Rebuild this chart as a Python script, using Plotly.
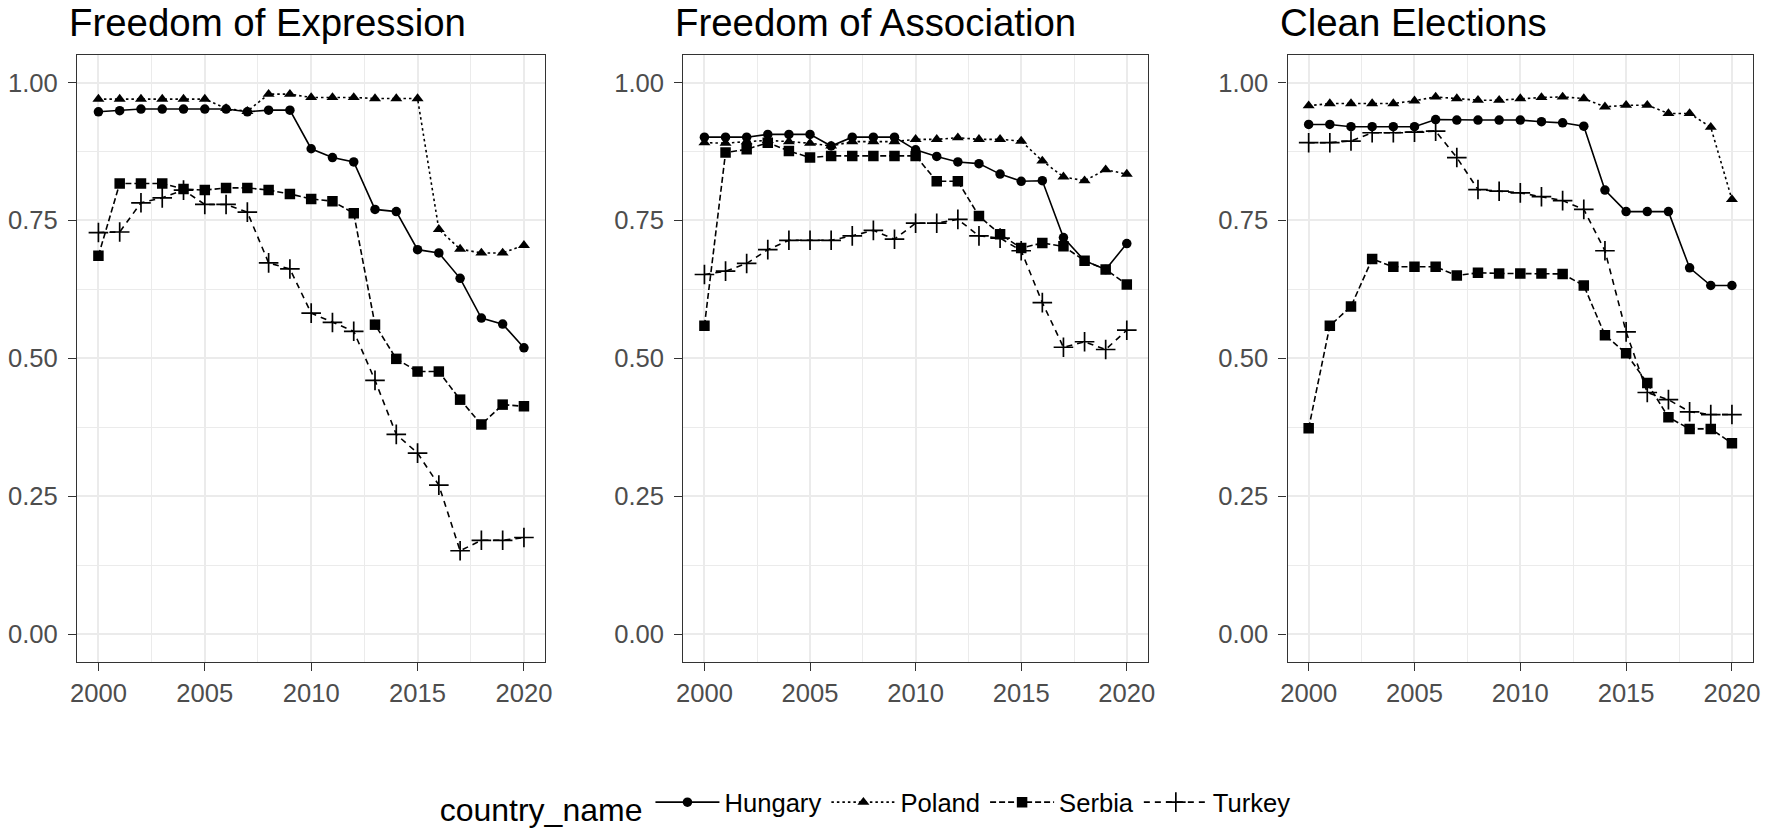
import plotly.graph_objects as go

years = list(range(2000, 2021))
countries = ["Hungary", "Poland", "Serbia", "Turkey"]
panel_titles = ["Freedom of Expression", "Freedom of Association", "Clean Elections"]
y_tick_vals = [0.0, 0.25, 0.5, 0.75, 1.0]
y_tick_text = ["0.00", "0.25", "0.50", "0.75", "1.00"]
x_tick_vals = [2000, 2005, 2010, 2015, 2020]

expr_hungary = [0.947, 0.949, 0.952, 0.952, 0.952, 0.952, 0.952, 0.947, 0.950, 0.950, 0.880,
                0.864, 0.856, 0.770, 0.766, 0.697, 0.691, 0.645, 0.573, 0.562, 0.519]
expr_poland = [0.970, 0.970, 0.970, 0.970, 0.970, 0.970, 0.953, 0.948, 0.979, 0.979, 0.973,
               0.973, 0.973, 0.971, 0.971, 0.971, 0.734, 0.698, 0.691, 0.691, 0.705]
expr_serbia = [0.686, 0.817, 0.817, 0.817, 0.807, 0.805, 0.809, 0.809, 0.805, 0.798, 0.789,
               0.785, 0.763, 0.561, 0.499, 0.476, 0.476, 0.425, 0.380, 0.416, 0.413]
expr_turkey = [0.728, 0.729, 0.782, 0.791, 0.805, 0.779, 0.779, 0.765, 0.673, 0.662, 0.582,
               0.565, 0.549, 0.460, 0.362, 0.328, 0.270, 0.151, 0.170, 0.170, 0.175]

assoc_hungary = [0.901, 0.901, 0.901, 0.906, 0.906, 0.906, 0.885, 0.901, 0.901, 0.901, 0.878,
                 0.866, 0.856, 0.853, 0.834, 0.821, 0.822, 0.719, 0.677, 0.661, 0.708]
assoc_poland = [0.891, 0.890, 0.893, 0.895, 0.893, 0.890, 0.885, 0.893, 0.893, 0.893, 0.897,
                0.897, 0.900, 0.897, 0.897, 0.894, 0.858, 0.829, 0.822, 0.842, 0.834]
assoc_serbia = [0.559, 0.873, 0.879, 0.891, 0.876, 0.864, 0.867, 0.867, 0.867, 0.867, 0.867,
                0.821, 0.821, 0.758, 0.725, 0.700, 0.709, 0.703, 0.677, 0.661, 0.634]
assoc_turkey = [0.652, 0.658, 0.672, 0.697, 0.714, 0.714, 0.714, 0.722, 0.732, 0.716, 0.745,
                0.745, 0.752, 0.722, 0.718, 0.695, 0.601, 0.520, 0.530, 0.516, 0.551]

elect_hungary = [0.924, 0.924, 0.920, 0.920, 0.920, 0.920, 0.933, 0.932, 0.932, 0.932, 0.932,
                 0.929, 0.927, 0.921, 0.805, 0.766, 0.766, 0.766, 0.664, 0.632, 0.632]
elect_poland = [0.958, 0.962, 0.962, 0.962, 0.962, 0.967, 0.974, 0.971, 0.968, 0.968, 0.971,
                0.973, 0.974, 0.971, 0.956, 0.959, 0.959, 0.944, 0.944, 0.919, 0.788]
elect_serbia = [0.373, 0.559, 0.594, 0.680, 0.666, 0.666, 0.666, 0.650, 0.655, 0.654, 0.654,
                0.654, 0.653, 0.632, 0.542, 0.509, 0.455, 0.393, 0.372, 0.372, 0.346]
elect_turkey = [0.891, 0.891, 0.894, 0.909, 0.909, 0.910, 0.912, 0.864, 0.806, 0.803, 0.800,
                0.793, 0.786, 0.770, 0.695, 0.548, 0.438, 0.425, 0.403, 0.398, 0.398]

panels = [
    [expr_hungary, expr_poland, expr_serbia, expr_turkey],
    [assoc_hungary, assoc_poland, assoc_serbia, assoc_turkey],
    [elect_hungary, elect_poland, elect_serbia, elect_turkey],
]

W, H = 1772, 831
styles = {
    "Hungary": dict(dash="solid", symbol="circle", size=9.5),
    "Poland": dict(dash="2.5px,3px", symbol="triangle-up", size=10.5),
    "Serbia": dict(dash="6px,3px", symbol="square", size=10.5),
    "Turkey": dict(dash="6px,5px", symbol="cross-thin", size=14),
}

px_x = [(70.7, 542.5), (681.7, 1150.0), (1290.7, 1760.0)]
x_domains = [(a / W, b / W) for a, b in px_x]
y_domain = ((H - 661.6) / H, (H - 55) / H)

FONT = "Liberation Sans, Arial, sans-serif"

fig = go.Figure()
for p, series in enumerate(panels):
    ax = "" if p == 0 else str(p + 1)
    for c, vals in zip(countries, series):
        st = styles[c]
        fig.add_trace(go.Scatter(
            x=years, y=vals, mode="lines+markers", name=c,
            xaxis="x" + ax, yaxis="y" + ax,
            legendgroup=c, showlegend=(p == 0),
            line=dict(color="black", width=1.6, dash=st["dash"]),
            marker=dict(symbol=st["symbol"], size=st["size"], color="black",
                        line=dict(color="black", width=1.7 if c == "Turkey" else 0)),
        ))

axis_common = dict(
    showline=True, mirror=True, linecolor="#333333", linewidth=1.4,
    ticks="outside", ticklen=8, tickcolor="#333333", tickwidth=1.4,
    showgrid=True, gridcolor="#EBEBEB", gridwidth=1.5,
    zeroline=False,
    tickfont=dict(family=FONT, size=25.6, color="#4D4D4D"),
)

layout = dict(
    width=W, height=H, margin=dict(l=0, r=0, t=0, b=0),
    plot_bgcolor="white", paper_bgcolor="white",
    font=dict(family=FONT, color="black"),
    legend=dict(orientation="h", x=0.489, xanchor="center", y=0.031, yanchor="middle",
                title=dict(text="country_name", side="left",
                           font=dict(size=32, color="black")),
                font=dict(size=25.6, color="black"), itemwidth=64,
                bgcolor="rgba(0,0,0,0)"),
    annotations=[],
)

for p in range(3):
    ax = "" if p == 0 else str(p + 1)
    layout["xaxis" + ax] = dict(
        axis_common, domain=list(x_domains[p]), range=[1999, 2021],
        tickvals=x_tick_vals, anchor="y" + ax,
        minor=dict(dtick=2.5, tick0=2000, showgrid=True, gridcolor="#EBEBEB", gridwidth=0.9),
    )
    layout["yaxis" + ax] = dict(
        axis_common, domain=list(y_domain), range=[-0.05, 1.05],
        tickvals=y_tick_vals, ticktext=y_tick_text, anchor="x" + ax,
        ticklabelstandoff=5,
        minor=dict(dtick=0.125, tick0=0, showgrid=True, gridcolor="#EBEBEB", gridwidth=0.9),
    )
    layout["annotations"].append(dict(
        text=panel_titles[p], xref="paper", yref="paper",
        x=(px_x[p][0] - 9) / W, y=1.0, xanchor="left", yanchor="top", borderpad=0,
        showarrow=False, font=dict(size=38.4, color="black", family=FONT),
    ))

fig.update_layout(**layout)
fig.write_html(
    "out.html",
    config={"displayModeBar": False},
    post_script="document.body.style.margin='0px';document.body.style.overflow='hidden';",
)
